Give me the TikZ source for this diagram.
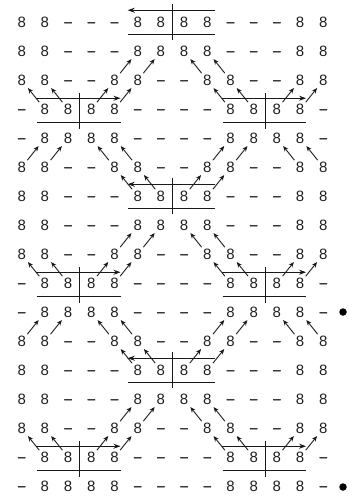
\documentclass[tikz,border=0pt]{standalone}
\usepackage{fontspec}
\setmainfont{Liberation Sans}
\newfontfamily\dashfont[FakeBold=2.5]{Liberation Sans}
\usetikzlibrary{arrows.meta,calc}
\newcommand\dd{\raisebox{1.3pt}{\dashfont\fontsize{13}{13}\selectfont –}}
\begin{document}
\begin{tikzpicture}[x=1pt,y=-1pt,
  cell/.style={anchor=base, inner sep=0pt, font=\fontsize{15}{15}\selectfont, text=black!88},
  move/.style={-{Stealth[length=5.5pt,width=4.5pt]}, line width=0.9pt, draw=black!90, shorten <=9pt, shorten >=10pt},
  rail/.style={line width=1.1pt, draw=black!90},
  railarrow/.style={rail, -{Stealth[length=7pt,width=5pt]}},
  dot/.style={circle, fill=black, inner sep=0pt, minimum size=7.5pt}
]
\useasboundingbox (0,0) rectangle (351,498);
\def\rowA{8,8,\dd,\dd,\dd,8,8,8,8,\dd,\dd,\dd,8,8}
\def\rowB{8,8,\dd,\dd,8,8,\dd,\dd,8,8,\dd,\dd,8,8}
\def\rowC{\dd,8,8,8,8,\dd,\dd,\dd,\dd,8,8,8,8,\dd}
\foreach \r in {0,1,6,7,12,13}{
  \foreach \t [count=\c from 0] in \rowA
    \node[cell] (n\r-\c) at ({21.7+23.2*\c},{22+29*\r+5.4}) {\t};
}
\foreach \r in {2,5,8,11,14}{
  \foreach \t [count=\c from 0] in \rowB
    \node[cell] (n\r-\c) at ({21.7+23.2*\c},{22+29*\r+5.4}) {\t};
}
\foreach \r in {3,4,9,10,15,16}{
  \foreach \t [count=\c from 0] in \rowC
    \node[cell] (n\r-\c) at ({21.7+23.2*\c},{22+29*\r+5.4}) {\t};
}
% diagonal moves, groups 1-2
\foreach \k in {0,6,12}{
  \pgfmathtruncatemacro\ra{\k+1}
  \pgfmathtruncatemacro\rb{\k+2}
  \pgfmathtruncatemacro\rc{\k+3}
  \foreach \a/\b in {4/5,5/6,8/7,9/8}
    \draw[move] (n\rb-\a.center) -- (n\ra-\b.center);
  \foreach \a/\b in {1/0,2/1,3/4,4/5,9/8,10/9,11/12,12/13}
    \draw[move] (n\rc-\a.center) -- (n\rb-\b.center);
}
% diagonal moves, groups 3-4
\foreach \k in {0,6}{
  \pgfmathtruncatemacro\rd{\k+4}
  \pgfmathtruncatemacro\re{\k+5}
  \pgfmathtruncatemacro\rf{\k+6}
  \foreach \a/\b in {0/1,1/2,4/3,5/4,8/9,9/10,12/11,13/12}
    \draw[move] (n\re-\a.center) -- (n\rd-\b.center);
  \foreach \a/\b in {5/4,6/5,7/8,8/9}
    \draw[move] (n\rf-\a.center) -- (n\re-\b.center);
}
% centre boxes (arrow to the left)
\foreach \r in {0,6,12}{
  \draw[railarrow] ($(n\r-8.center)+(8,-12)$) -- ($(n\r-5.center)+(-10,-12)$);
  \draw[rail] ($(n\r-5.center)+(-10,12)$) -- ($(n\r-8.center)+(8,12)$);
  \draw[rail] ($(n\r-6.center)!0.5!(n\r-7.center)+(0,-18)$) -- ($(n\r-6.center)!0.5!(n\r-7.center)+(0,18)$);
}
% side boxes (arrow to the right)
\foreach \r in {3,9,15}{
  \foreach \a/\b/\m/\n in {1/4/2/3,9/12/10/11}{
    \draw[railarrow] ($(n\r-\a.center)+(-9,-11)$) -- ($(n\r-\b.center)+(6,-11)$);
    \draw[rail] ($(n\r-\a.center)+(-8,13)$) -- ($(n\r-\b.center)+(6,13)$);
    \draw[rail] ($(n\r-\m.center)!0.5!(n\r-\n.center)+(0,-16)$) -- ($(n\r-\m.center)!0.5!(n\r-\n.center)+(0,20)$);
  }
}
\node[dot] (d1) at (343,312) {};
\node[dot] (d2) at (343,487) {};
\end{tikzpicture}
\end{document}
